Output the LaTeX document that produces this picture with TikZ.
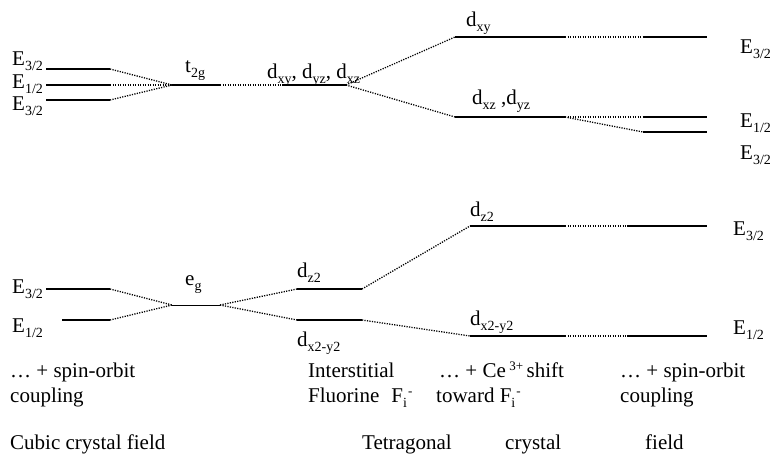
\documentclass[tikz,border=0pt]{standalone}
\usepackage{fontspec}
\setmainfont{Liberation Serif}
\newcommand{\sbs}[1]{\raisebox{-5pt}{\fontsize{14}{14}\selectfont #1}}
\newcommand{\sps}[1]{\raisebox{7pt}{\fontsize{13}{13}\selectfont #1}}
\newcommand{\Fi}{F\rlap{\sbs{i}}\hspace{5pt}\sps{-}}
\begin{document}
\begin{tikzpicture}[x=1pt,y=-1pt,
	lvl/.style={line width=1.6pt},
	link/.style={line width=1.3pt,dash pattern=on 1.2pt off 1.3pt},
	lab/.style={anchor=base west,inner sep=0pt,font=\fontsize{21}{25}\selectfont},
	steptext/.style={lab,align=left}]
	\useasboundingbox (0,0) rectangle (782,461);
	% cubic field, upper levels
	\draw[lvl] (46,69) coordinate (soa) -- (110,69) coordinate (soar);
	\draw[lvl] (46,85) coordinate (sob) -- (110,85) coordinate (sobr);
	\draw[lvl] (46,100) coordinate (soc) -- (110,100) coordinate (socr);
	\draw[lvl] (172,85) coordinate (tl) -- (220,85) coordinate (tr);
	\draw[link] (soar)--(tl); \draw[link] (sobr)--(tl); \draw[link] (socr)--(tl);
	% tetragonal, upper levels
	\draw[lvl] (282,85) coordinate (dal) -- (346,85) coordinate (dar);
	\draw[link] (tr)--(dal);
	\draw[lvl] (455,37) coordinate (xyl) -- (565,37) coordinate (xyr);
	\draw[lvl] (455,117) coordinate (xzl) -- (565,117) coordinate (xzr);
	\draw[link] (dar)--(xyl); \draw[link] (dar)--(xzl);
	\draw[lvl] (643,37) coordinate (ral) -- (707,37);
	\draw[lvl] (643,117) coordinate (rbl) -- (707,117);
	\draw[lvl] (643,132) coordinate (rcl) -- (707,132);
	\draw[link] (xyr)--(ral); \draw[link] (xzr)--(rbl); \draw[link] (xzr)--(rcl);
	% cubic field, lower levels
	\draw[lvl] (46,289) coordinate (sod) -- (110,289) coordinate (sodr);
	\draw[lvl] (62,320) coordinate (soe) -- (110,320) coordinate (soer);
	\draw[line width=0.8pt] (172,305) coordinate (el) -- (220,305) coordinate (er);
	\draw[link] (sodr)--(el); \draw[link] (soer)--(el);
	% tetragonal, lower levels
	\draw[lvl] (297,289) coordinate (dzl) -- (362,289) coordinate (dzr);
	\draw[lvl] (297,320) coordinate (dxl) -- (362,320) coordinate (dxr);
	\draw[link] (er)--(dzl); \draw[link] (er)--(dxl);
	\draw[lvl] (470,226) coordinate (zsl) -- (565,226) coordinate (zsr);
	\draw[lvl] (470,336) coordinate (xsl) -- (565,336) coordinate (xsr);
	\draw[link] (dzr)--(zsl); \draw[link] (dxr)--(xsl);
	\draw[lvl] (627,226) coordinate (rdl) -- (707,226);
	\draw[lvl] (627,336) coordinate (rel) -- (707,336);
	\draw[link] (zsr)--(rdl); \draw[link] (xsr)--(rel);
	% level labels
	\node[lab] (la) at (12,65) {E\sbs{3/2}};
	\node[lab] (lb) at (12,88) {E\sbs{1/2}};
	\node[lab] (lc) at (12,110) {E\sbs{3/2}};
	\node[lab] (lt) at (185,72) {t\sbs{2g}};
	\node[lab] (ld) at (267,78) {d\sbs{xy}, d\sbs{yz}, d\sbs{xz}};
	\node[lab] (lxy) at (466,26) {d\sbs{xy}};
	\node[lab] (lxz) at (472,104) {d\sbs{xz} ,d\sbs{yz}};
	\node[lab] (lra) at (740,53) {E\sbs{3/2}};
	\node[lab] (lrb) at (740,127) {E\sbs{1/2}};
	\node[lab] (lrc) at (740,159) {E\sbs{3/2}};
	\node[lab] (ld1) at (12,293) {E\sbs{3/2}};
	\node[lab] (le1) at (12,332) {E\sbs{1/2}};
	\node[lab] (leg) at (185,285) {e\sbs{g}};
	\node[lab] (ldz) at (297,277) {d\sbs{z2}};
	\node[lab] (ldx) at (297,346) {d\sbs{x2-y2}};
	\node[lab] (lzs) at (470,216) {d\sbs{z2}};
	\node[lab] (lxs) at (470,325) {d\sbs{x2-y2}};
	\node[lab] (lrd) at (733,235) {E\sbs{3/2}};
	\node[lab] (lre) at (733,334) {E\sbs{1/2}};
	% step captions
	\node[steptext] (ca) at (10,402) {\ldots{} + spin-orbit\\coupling};
	\node[steptext] (cb) at (308,402) {Interstitial\\Fluorine\hspace{12pt}\Fi};
	\node[steptext] (cc) at (436,402) {\hspace{3pt}\ldots{} + Ce\,\sps{3+}\,shift\\toward \Fi};
	\node[steptext] (cd) at (620,402) {\ldots{} + spin-orbit\\coupling};
	\node[lab] (cub) at (10,449) {Cubic crystal field};
	\node[lab] (tet) at (362,449) {Tetragonal};
	\node[lab] (cry) at (505,449) {crystal};
	\node[lab] (fie) at (645,449) {field};
\end{tikzpicture}
\end{document}
